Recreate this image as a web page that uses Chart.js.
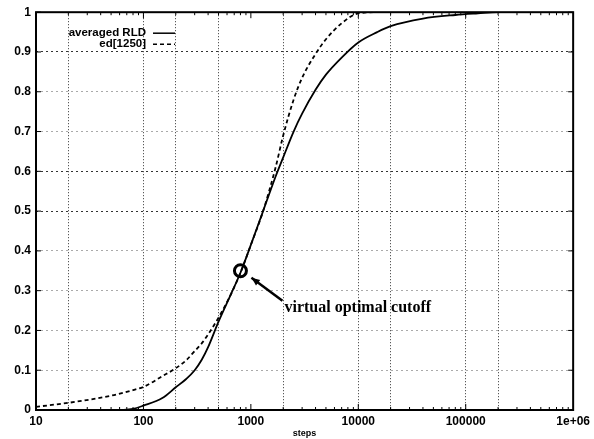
<!DOCTYPE html>
<html>
<head>
<meta charset="utf-8">
<script src="https://cdn.jsdelivr.net/npm/chart.js@4/dist/chart.umd.min.js"></script>
<style>
  body { margin: 0; background: #fff; }
  #wrap { width: 594px; height: 439px; }
</style>
</head>
<body>
<div id="wrap"><canvas id="rldChart" width="594" height="439"></canvas></div>
<script>
// Dados
const steps = [10, 20, 50, 80, 100, 150, 200, 250, 300, 350, 400, 500, 650, 800, 1000, 1300, 1700, 2000, 2500, 3000, 4000, 5000, 7000, 10000, 15000, 20000, 40000, 80000, 130000, 200000, 1000000];
const averagedRLD = [0, 0, 0, 0.003, 0.011, 0.03, 0.057, 0.078, 0.1, 0.127, 0.158, 0.222, 0.29, 0.345, 0.415, 0.5, 0.587, 0.635, 0.7, 0.745, 0.805, 0.843, 0.886, 0.924, 0.95, 0.965, 0.984, 0.993, 0.997, 1, 1];
const ed1250 = [0.008, 0.018, 0.036, 0.05, 0.058, 0.085, 0.105, 0.125, 0.148, 0.168, 0.19, 0.232, 0.29, 0.345, 0.415, 0.5, 0.61, 0.69, 0.78, 0.835, 0.895, 0.932, 0.972, 0.997, 1, 1, 1, 1, 1, 1, 1];
const cutoffPoint = [{ x: 800, y: 0.35 }];

const xGridValues = [20, 100, 200, 500, 2000, 10000, 20000, 100000, 200000];
const xLabelValues = [10, 100, 1000, 10000, 100000, 1000000];
const yStrongGrid = [0.5, 0.6, 0.9];

const legendItems = [
  { label: "averaged RLD", dash: [] },
  { label: "ed[1250]", dash: [4, 3] },
];

function toPoints(xs, ys) {
  return xs.map((x, i) => ({ x: x, y: ys[i] }));
}

// Moldura, marcas dos eixos, legenda e anotação
const decorPlugin = {
  id: "decor",
  afterDraw(chart) {
    const ctx = chart.ctx;
    const area = chart.chartArea;
    const xs = chart.scales.x;
    const ys = chart.scales.y;

    ctx.save();
    ctx.strokeStyle = "#000";
    ctx.lineWidth = 2;
    ctx.strokeRect(area.left, area.top, area.right - area.left, area.bottom - area.top);

    // marcas menores no eixo x
    ctx.lineWidth = 1;
    for (let d = 10; d < 1000000; d *= 10) {
      for (let m = 1; m < 10; m++) {
        const px = xs.getPixelForValue(d * m);
        const len = m === 1 ? 6 : 3;
        ctx.beginPath();
        ctx.moveTo(px, area.bottom);
        ctx.lineTo(px, area.bottom - len);
        ctx.moveTo(px, area.top);
        ctx.lineTo(px, area.top + len);
        ctx.stroke();
      }
    }
    for (let v = 0; v <= 1.001; v += 0.1) {
      const py = ys.getPixelForValue(v);
      ctx.beginPath();
      ctx.moveTo(area.left, py);
      ctx.lineTo(area.left + 5, py);
      ctx.moveTo(area.right, py);
      ctx.lineTo(area.right - 5, py);
      ctx.stroke();
    }

    // legenda
    ctx.font = "bold 11.5px 'Liberation Sans'";
    ctx.fillStyle = "#000";
    ctx.textAlign = "right";
    ctx.textBaseline = "middle";
    legendItems.forEach((item, i) => {
      const y = area.top + 21 + i * 11;
      ctx.fillText(item.label, area.left + 110, y);
      ctx.setLineDash(item.dash);
      ctx.lineWidth = 1.5;
      ctx.beginPath();
      ctx.moveTo(area.left + 117, y);
      ctx.lineTo(area.left + 139, y);
      ctx.stroke();
    });
    ctx.setLineDash([]);

    // seta e texto da anotação
    const p = cutoffPoint[0];
    const cx = xs.getPixelForValue(p.x);
    const cy = ys.getPixelForValue(p.y);
    const x0 = cx + 42, y0 = cy + 30;
    const x1 = cx + 11, y1 = cy + 7;
    ctx.lineWidth = 2.5;
    ctx.beginPath();
    ctx.moveTo(x0, y0);
    ctx.lineTo(x1, y1);
    ctx.stroke();
    const ang = Math.atan2(y1 - y0, x1 - x0);
    ctx.beginPath();
    ctx.moveTo(x1, y1);
    ctx.lineTo(x1 - 9 * Math.cos(ang - 0.4), y1 - 9 * Math.sin(ang - 0.4));
    ctx.lineTo(x1 - 9 * Math.cos(ang + 0.4), y1 - 9 * Math.sin(ang + 0.4));
    ctx.closePath();
    ctx.fill();

    ctx.font = "bold 16px 'Liberation Serif'";
    ctx.textAlign = "left";
    ctx.textBaseline = "middle";
    ctx.fillText("virtual optimal cutoff", cx + 44, cy + 37);
    ctx.restore();
  },
};

const ctx = document.getElementById("rldChart").getContext("2d");
new Chart(ctx, {
  type: "line",
  data: {
    datasets: [
      {
        label: "averaged RLD",
        data: toPoints(steps, averagedRLD),
        borderColor: "#000",
        borderWidth: 1.8,
        pointRadius: 0,
        cubicInterpolationMode: "monotone",
        fill: false,
      },
      {
        label: "ed[1250]",
        data: toPoints(steps, ed1250),
        borderColor: "#000",
        borderWidth: 1.8,
        borderDash: [4, 3],
        pointRadius: 0,
        cubicInterpolationMode: "monotone",
        fill: false,
      },
      {
        type: "scatter",
        label: "cutoff",
        data: cutoffPoint,
        pointRadius: 6,
        pointBorderWidth: 3,
        pointBorderColor: "#000",
        pointBackgroundColor: "rgba(0,0,0,0)",
        showLine: false,
      },
    ],
  },
  options: {
    responsive: false,
    animation: false,
    devicePixelRatio: 1,
    layout: { padding: { top: 11, right: 17, left: 0, bottom: 0 } },
    plugins: {
      legend: { display: false },
      tooltip: { enabled: false },
    },
    scales: {
      x: {
        type: "logarithmic",
        min: 10,
        max: 1000000,
        afterFit: (scale) => { scale.height = 29; },
        afterBuildTicks: (scale) => {
          const vals = [...new Set([...xLabelValues, ...xGridValues])].sort((a, b) => a - b);
          scale.ticks = vals.map((v) => ({ value: v }));
        },
        ticks: {
          autoSkip: false,
          maxRotation: 0,
          padding: 4,
          color: "#000",
          font: { family: "'Liberation Sans'", size: 12, weight: "bold" },
          callback: (value) => {
            if (!xLabelValues.includes(value)) return "";
            return value === 1000000 ? "1e+06" : String(value);
          },
        },
        grid: {
          drawTicks: false,
          lineWidth: 1,
          color: (c) => (c.tick && xGridValues.includes(c.tick.value) ? "#333" : "rgba(0,0,0,0)"),
        },
        border: { display: false, dash: [1, 2] },
        title: {
          display: true,
          text: "steps",
          color: "#000",
          padding: { top: 0, bottom: 0 },
          font: { family: "'Liberation Sans'", size: 9, weight: "bold" },
        },
      },
      y: {
        min: 0,
        max: 1,
        afterFit: (scale) => { scale.width = 36; },
        ticks: {
          stepSize: 0.1,
          padding: 5,
          color: "#000",
          font: { family: "'Liberation Sans'", size: 12, weight: "bold" },
          callback: (value) => {
            const v = Math.round(value * 10) / 10;
            return v === 0 || v === 1 ? String(v) : v.toFixed(1);
          },
        },
        grid: {
          drawTicks: false,
          lineWidth: 1,
          color: (c) => {
            const v = Math.round(c.tick.value * 10) / 10;
            if (v === 0 || v === 1) return "rgba(0,0,0,0)";
            return yStrongGrid.includes(v) ? "#333" : "#aaa";
          },
        },
        border: { display: false, dash: [2, 3] },
      },
    },
  },
  plugins: [decorPlugin],
});
</script>
</body>
</html>
